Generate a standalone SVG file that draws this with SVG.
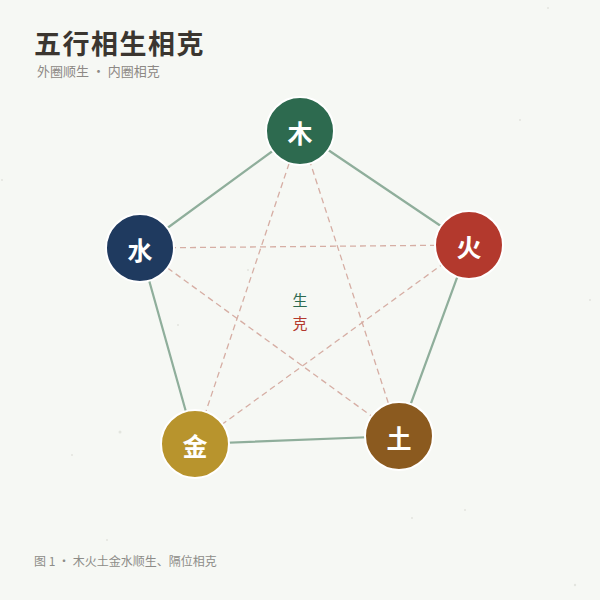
<svg xmlns="http://www.w3.org/2000/svg" width="600" height="600" viewBox="0 0 600 600">
<style>
.ring{stroke:#8fae9b;stroke-width:2.2;fill:none;stroke-linecap:round}
.star{stroke:#d6aea4;stroke-width:1.3;fill:none;stroke-dasharray:6 4}
.node circle{stroke:#ffffff;stroke-width:2}
.node text{fill:#ffffff;font-family:"Noto Sans CJK SC","Noto Sans",sans-serif;font-weight:700;font-size:25px;text-anchor:middle;dominant-baseline:central}
.title{font-family:"Noto Sans CJK SC","Noto Sans",sans-serif;font-weight:700;font-size:27px;fill:#3b3630;letter-spacing:1.5px}
.sub{font-family:"Noto Sans CJK SC","Noto Sans",sans-serif;font-size:13px;fill:#8d8985}
.cap{font-family:"Noto Sans CJK SC","Noto Sans",sans-serif;font-size:12px;fill:#8d8c88}
.mid{font-family:"Noto Sans CJK SC","Noto Sans",sans-serif;font-size:15px;text-anchor:middle}
</style>
<rect width="600" height="600" fill="#f6f8f4"/>
<g id="speckles" fill="#e3e5df">
<circle cx="120" cy="432" r="1.5"/><circle cx="548" cy="8" r="1"/><circle cx="178" cy="325" r="1"/><circle cx="72" cy="455" r="1"/><circle cx="465" cy="510" r="1"/><circle cx="575" cy="585" r="1.2"/><circle cx="248" cy="270" r="1"/><circle cx="2" cy="180" r="1"/><circle cx="520" cy="120" r="1"/><circle cx="412" cy="518" r="1"/><circle cx="107" cy="540" r="1"/><circle cx="590" cy="300" r="1"/>
</g>
<text class="title" x="34" y="54">五行相生相克</text>
<text class="sub" x="37" y="76">外圈顺生 · 内圈相克</text>
<g id="connectors">
<line class="star" x1="300" y1="131" x2="399" y2="436"/>
<line class="star" x1="399" y1="436" x2="140" y2="248"/>
<line class="star" x1="140" y1="248" x2="469" y2="245"/>
<line class="star" x1="469" y1="245" x2="195" y2="444"/>
<line class="star" x1="195" y1="444" x2="300" y2="131"/>
<line class="ring" x1="300" y1="131" x2="469" y2="245"/>
<line class="ring" x1="469" y1="245" x2="399" y2="436"/>
<line class="ring" x1="399" y1="436" x2="195" y2="444"/>
<line class="ring" x1="195" y1="444" x2="140" y2="248"/>
<line class="ring" x1="140" y1="248" x2="300" y2="131"/>
</g>
<g id="node-wood" class="node"><circle cx="300" cy="131" r="34" fill="#2d6a4f"/><text x="300" y="132">木</text></g>
<g id="node-fire" class="node"><circle cx="469" cy="245" r="34" fill="#b3392d"/><text x="469" y="246">火</text></g>
<g id="node-earth" class="node"><circle cx="399" cy="436" r="34" fill="#8b5a1f"/><text x="399" y="437">土</text></g>
<g id="node-metal" class="node"><circle cx="195" cy="444" r="34" fill="#b8942d"/><text x="195" y="445">金</text></g>
<g id="node-water" class="node"><circle cx="140" cy="248" r="34" fill="#1f3a5f"/><text x="140" y="249">水</text></g>
<g id="center-labels">
<text class="mid" x="300" y="306" fill="#2d6a4f">生</text>
<text class="mid" x="300" y="329" fill="#b3392d">克</text>
</g>
<text class="cap" x="34" y="566">图 1 · 木火土金水顺生、隔位相克</text>
</svg>
